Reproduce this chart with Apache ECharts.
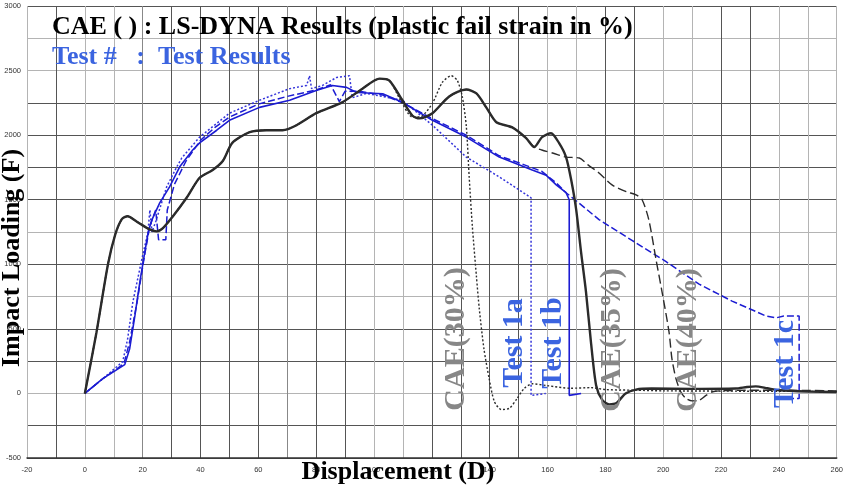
<!DOCTYPE html>
<html><head><meta charset="utf-8">
<script src="https://cdn.jsdelivr.net/npm/echarts@6/dist/echarts.min.js"></script>
<style>html,body{margin:0;padding:0;background:#fff}#c{width:846px;height:486px}</style>
</head><body><div id="c"></div>
<script>
// ---- tick labels ----
const xLabelValues = [-20,0,20,40,60,80,100,120,140,160,180,200,220,240,260];
const yLabelValues = [-500,0,500,1000,1500,2000,2500,3000];

// ---- CAE (LS-DYNA) curves: [displacement, load] ----
const cae35 = [[0,0],[4,470],[8,1000],[10.5,1230],[12.8,1350],[14.8,1372],[18,1330],[22.4,1270],[24.8,1255],[27,1280],[30.4,1370],[35.2,1515],[39.7,1670],[44.2,1730],[47.7,1800],[51,1940],[57,2023],[62.8,2038],[68.4,2038],[73.2,2077],[80,2170],[89,2254],[96,2360],[101.9,2438],[105.3,2423],[109.8,2270],[113.3,2150],[115.7,2130],[120.2,2170],[126,2300],[131.9,2354],[135.4,2323],[138.8,2215],[142.3,2100],[147.8,2060],[152.6,1977],[155.4,1908],[158.1,1985],[161.2,2015],[164,1938],[166.4,1830],[168.2,1650],[169.9,1423],[171.6,1092],[173.3,785],[175,400],[176.8,62],[178.9,-50],[181.3,-85],[183.7,-77],[187,0],[190.6,30],[196,38],[210,35],[225,38],[229,50],[232,55],[236,40],[240,25],[250,15],[260,10]];
const cae30Tail = [[108.8,2285],[113.3,2140],[116.7,2150],[120.2,2246],[123.6,2408],[126.7,2460],[128.8,2423],[130.5,2300],[131.9,2070],[132.9,1677],[134,1292],[135.4,908],[136.4,654],[138,346],[139.8,115],[141.6,-62],[144,-125],[146.8,-115],[149.5,-38],[151.9,38],[154.7,75],[160,60],[168,40],[175,45],[180,30],[190,25],[200,20],[260,15]];
const cae40Tail = [[158,1885],[162,1860],[166.4,1830],[171,1823],[174,1770],[177.8,1707],[182.3,1615],[187.2,1562],[190.6,1538],[192.7,1500],[195,1346],[197.5,1038],[199.6,785],[202,477],[203,270],[204.4,115],[206,15],[207.8,-38],[210,-58],[212.4,-54],[214.8,-15],[217.5,15],[223.8,23],[240,25],[260,20]];
const cae30Split = 105.3;   // displacement where CAE(30%) leaves the shared path
const cae40Split = 155.4;   // displacement where CAE(40%) leaves the shared path

// ---- Test curves ----
const test1a = [[0,0],[6,110],[13.1,246],[14.8,423],[16.6,708],[19.7,1038],[21.8,1246],[22.5,1420],[23.2,1250],[24.5,1330],[28.3,1600],[31.8,1755],[33.5,1823],[39.7,1985],[50,2170],[60.4,2270],[70.8,2360],[76.7,2385],[77.7,2460],[78.4,2360],[82.2,2385],[87,2446],[91.5,2460],[92.5,2290],[97.4,2323],[109.8,2270],[120.2,2077],[131.9,1830],[143.3,1677],[154.3,1515],[154.3,-15],[159.4,0]];
const test1b = [[0,0],[6.2,115],[13.8,223],[15.5,346],[17.3,600],[19,860],[20.7,1090],[22.1,1270],[23.5,1360],[25.9,1475],[29.3,1600],[32.8,1755],[37.3,1885],[39.7,1940],[45.6,2038],[50,2115],[60.4,2215],[70.8,2270],[80,2346],[85.6,2385],[90.5,2370],[94,2330],[103,2320],[109.8,2254],[120.2,2115],[131.9,1985],[143.3,1830],[154.7,1730],[159.5,1690],[163,1615],[166.4,1554],[167.5,1500],[167.5,-15],[171.6,0]];
const test1c = [[0,0],[6,110],[13.5,230],[15.5,400],[18,700],[20.5,1050],[22.5,1300],[24.5,1420],[25.5,1190],[28,1190],[28.5,1420],[31,1620],[35,1800],[40,1960],[45,2060],[50,2140],[60,2240],[70,2300],[80,2350],[85,2390],[88,2260],[90,2340],[95,2340],[103,2310],[110,2250],[120,2130],[131.9,2000],[143.3,1840],[152,1770],[158,1720],[163,1630],[166.4,1554],[170,1490],[177.8,1346],[189.2,1185],[201,1020],[212.4,846],[223.8,715],[235.5,600],[239,585],[241.7,600],[247,600],[247,-40],[241,-40]];

// ---- annotation texts ----
const titleCAE = 'CAE ( ) : LS-DYNA Results (plastic fail strain in %)';
const titleTest = 'Test #   :  Test Results';
const caeLabels = ['CAE(30%)','CAE(35%)','CAE(40%)'];
const testLabels = ['Test 1a','Test 1b','Test 1c'];

// ---- styles ----
const D='#555', L='#b4b4b4', M='#888';
const xGridColors = [L,D,L,L,M,D,D,D,D,M,D,D,L,L,D,D,D,D,L,L,D,D,L,L,D,D,L,L,L];
const yGridColors = [D,D,L,D,D,L,D,L,D,D,D,D,L,L,D];

const cae30 = cae35.filter(p => p[0] <= cae30Split).concat(cae30Tail);
const cae40 = cae35.filter(p => p[0] <= cae40Split).concat(cae40Tail);

const serif = '"Liberation Serif","Times New Roman",serif';
const blueText = '#3b64e0';
const grayText = '#878787';
const blueLine = '#1c1cd2';
const blackLine = '#2b2b2b';

function txt(text, x, y, size, color, rot, align) {
  return { type:'text', x:x, y:y, rotation: rot||0, z:100,
    style:{ text:text, fontSize:size, fontWeight:'bold', fontFamily:serif, fill:color,
      align: align||'center', verticalAlign:'middle' } };
}

const chart = echarts.init(document.getElementById('c'), null, {renderer:'canvas'});
chart.setOption({
  animation:false,
  backgroundColor:'#fff',
  grid:{left:27, right:8, top:6, bottom:28},
  xAxis:{ type:'value', min:-20, max:260, interval:10,
    axisLine:{show:true, onZero:false, lineStyle:{color:'#333', width:1.5}},
    axisTick:{show:false},
    axisLabel:{fontSize:7.5, color:'#333', margin:8, fontFamily:'"Liberation Sans",sans-serif',
      formatter: v => xLabelValues.includes(v) ? String(v) : ''},
    splitLine:{show:true, lineStyle:{color:xGridColors, width:1}} },
  yAxis:{ type:'value', min:-500, max:3000, interval:250,
    axisLine:{show:false}, axisTick:{show:false},
    axisLabel:{fontSize:7.5, color:'#333', margin:6, fontFamily:'"Liberation Sans",sans-serif',
      formatter: v => yLabelValues.includes(v) ? String(v) : ''},
    splitLine:{show:true, lineStyle:{color:yGridColors, width:1}} },
  series:[
    {type:'line', name:'Test 1a', data:test1a, symbol:'none', lineStyle:{color:'#3434da', width:1.5, type:[2,2]}},
    {type:'line', name:'Test 1c', data:test1c, symbol:'none', lineStyle:{color:blueLine, width:1.5, type:[7,3]}},
    {type:'line', name:'Test 1b', data:test1b, symbol:'none', lineStyle:{color:blueLine, width:1.6}},
    {type:'line', name:'CAE(30%)', data:cae30, symbol:'none', smooth:0.25, lineStyle:{color:blackLine, width:1.4, type:[2,2]}},
    {type:'line', name:'CAE(40%)', data:cae40, symbol:'none', smooth:0.25, lineStyle:{color:blackLine, width:1.4, type:[9,4]}},
    {type:'line', name:'CAE(35%)', data:cae35, symbol:'none', smooth:0.25, lineStyle:{color:blackLine, width:2.4}}
  ],
  graphic:[
    txt(titleCAE, 52, 27, 26, '#000', 0, 'left'),
    txt(titleTest, 52, 57, 26, blueText, 0, 'left'),
    txt('Impact Loading (F)', 12, 258, 26, '#000', Math.PI/2),
    txt('Displacement (D)', 398, 472, 26, '#000', 0),
    txt(caeLabels[0], 456, 339, 30, grayText, Math.PI/2),
    txt(testLabels[0], 514, 343, 30, blueText, Math.PI/2),
    txt(testLabels[1], 553, 343, 30, blueText, Math.PI/2),
    txt(caeLabels[1], 612, 340, 30, grayText, Math.PI/2),
    txt(caeLabels[2], 688, 340, 30, grayText, Math.PI/2),
    txt(testLabels[2], 785, 364, 30, blueText, Math.PI/2)
  ]
});
</script></body></html>
